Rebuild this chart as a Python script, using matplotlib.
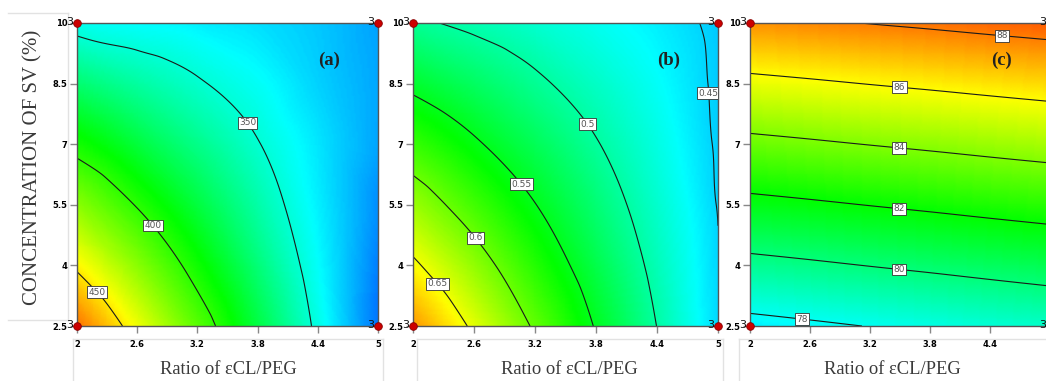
import numpy as np
import matplotlib.pyplot as plt
import matplotlib.tri as mtri
from matplotlib.colors import LinearSegmentedColormap, Normalize
from matplotlib.lines import Line2D

# grid of the design space
ratio_ticks = [2, 2.6, 3.2, 3.8, 4.4, 5]
conc_ticks = [2.5, 4, 5.5, 7, 8.5, 10]
ratio_labels = ["2", "2.6", "3.2", "3.8", "4.4", "5"]
conc_labels = ["2.5", "4", "5.5", "7", "8.5", "10"]

# responses, rows follow conc_ticks, columns ratio_ticks
resp_a = [
    [475.0, 441.8, 409.3, 377.6, 346.8, 316.7],
    [447.1, 419.8, 393.3, 367.7, 342.8, 318.7],
    [420.1, 398.9, 378.4, 358.7, 339.8, 321.6],
    [394.2, 378.9, 364.4, 350.7, 337.8, 325.6],
    [369.2, 359.9, 351.4, 343.7, 334.0, 326.0],
    [345.3, 342.0, 339.5, 336.5, 332.0, 325.0],
]
resp_b = [
    [0.693, 0.6446, 0.5963, 0.5479, 0.4996, 0.4520],
    [0.6555, 0.6145, 0.5735, 0.5326, 0.4916, 0.4505],
    [0.618, 0.5844, 0.5508, 0.5172, 0.4836, 0.4490],
    [0.5805, 0.5543, 0.5281, 0.5018, 0.4756, 0.4475],
    [0.543, 0.5242, 0.5053, 0.4865, 0.4676, 0.4465],
    [0.5055, 0.4940, 0.4826, 0.4711, 0.4597, 0.4450],
]
resp_c = [
    [77.58, 77.80, 78.03, 78.25, 78.48, 78.70],
    [79.60, 79.81, 80.03, 80.24, 80.46, 80.67],
    [81.62, 81.82, 82.03, 82.23, 82.44, 82.64],
    [83.64, 83.83, 84.03, 84.22, 84.42, 84.61],
    [85.66, 85.84, 86.03, 86.21, 86.40, 86.58],
    [87.68, 87.85, 88.03, 88.20, 88.38, 88.55],
]

levels_a = [350, 400, 450]
levels_b = [0.45, 0.5, 0.55, 0.6, 0.65]
levels_c = [78, 80, 82, 84, 86, 88]

# where the contour labels sit
labels_a = [(2.22, 3.39), (2.81, 5.1), (3.70, 7.53)]
labels_b = [(2.27, 3.6), (2.64, 4.73), (3.085, 6.05), (3.72, 7.5), (4.89, 8.26)]
labels_c = [(2.52, 2.7), (3.5, 4.06), (3.5, 5.56), (3.5, 7.06), (3.5, 8.57), (4.52, 9.75)]

# colour scale stops (blue, cyan, green, yellow, red)
stops_a = [295, 342, 390, 445, 500]
stops_b = [0.37, 0.465, 0.56, 0.655, 0.75]
stops_c = [74, 77.8, 82, 86, 90]
stop_colors = ["#0000ff", "#00ffff", "#00ff00", "#ffff00", "#ff0000"]

W, H = 1046, 381
fig = plt.figure(figsize=(W / 100, H / 100), dpi=100)


def px_axes(left, right, top, bottom):
    return fig.add_axes([left / W, (H - bottom) / H, (right - left) / W, (bottom - top) / H])


def draw_panel(ax, resp, stops, levels, fmt, label_pos, tag, xlab_x, xlabels):
    X, Y = np.meshgrid(ratio_ticks, conc_ticks)
    z = np.array(resp, dtype=float).ravel()
    tri = mtri.Triangulation(X.ravel(), Y.ravel())
    interp = mtri.CubicTriInterpolator(tri, z, kind="geom")
    refiner = mtri.UniformTriRefiner(tri)
    fine_tri, fine_z = refiner.refine_field(z, triinterpolator=interp, subdiv=5)

    vmin, vmax = stops[0], stops[-1]
    pos = [(s - vmin) / (vmax - vmin) for s in stops]
    cmap = LinearSegmentedColormap.from_list("de", list(zip(pos, stop_colors)))
    ax.tripcolor(fine_tri, fine_z, shading="gouraud", cmap=cmap,
                 norm=Normalize(vmin, vmax), rasterized=True)
    cs = ax.tricontour(fine_tri, fine_z, levels=levels, colors="#1a1a1a", linewidths=0.8)
    texts = ax.clabel(cs, fmt=fmt, manual=label_pos, inline=False,
                      fontsize=6.5, colors="#555555")
    for t in texts:
        t.set_rotation(0)
        t.set_bbox(dict(boxstyle="square,pad=0.15", fc="white", ec="#333333", lw=0.6))

    ax.set_xlim(2, 5)
    ax.set_ylim(2.5, 10)
    ax.set_xticks(ratio_ticks)
    ax.set_xticklabels(xlabels)
    ax.set_yticks(conc_ticks)
    ax.set_yticklabels(conc_labels)
    ax.tick_params(direction="out", length=5, width=1, color="#888888",
                   labelsize=6, pad=5)
    ax.tick_params(axis="y", pad=2)
    for lab in ax.get_xticklabels() + ax.get_yticklabels():
        lab.set_fontweight("bold")
    for sp in ax.spines.values():
        sp.set_color("#555555")
        sp.set_linewidth(1)

    # design points at the corners
    cx = [ratio_ticks[0], ratio_ticks[0], ratio_ticks[-1], ratio_ticks[-1]]
    cy = [conc_ticks[0], conc_ticks[-1], conc_ticks[0], conc_ticks[-1]]
    ax.plot(cx, cy, "o", ms=5.5, color="#cc0000", mec="#880000", mew=0.6,
            clip_on=False, zorder=6)
    for px, py in zip(cx, cy):
        ax.annotate("3", xy=(px, py), xytext=(-2.5, 0.8), textcoords="offset points",
                    ha="right", va="center", fontsize=8, color="#111111",
                    annotation_clip=False, zorder=7)

    ax.text(0.837, 0.878, tag, transform=ax.transAxes, ha="center", va="center",
            fontsize=13.5, fontweight="bold", family="Liberation Serif", color="#222222")
    fig.text(xlab_x / W, (H - 370) / H, "Ratio of \u03b5CL/PEG", ha="center", va="center",
             fontsize=13.3, family="Liberation Serif", color="#3a3a3a")


ax_a = px_axes(77, 378, 23, 326)
ax_b = px_axes(413, 718, 23, 326)
ax_c = px_axes(750, 1050, 23, 326)

draw_panel(ax_a, resp_a, stops_a, levels_a, "%d", labels_a, "(a)", 228, ratio_labels)
draw_panel(ax_b, resp_b, stops_b, levels_b, "%g", labels_b, "(b)", 569, ratio_labels)
# the last tick label of panel (c) falls outside the picture
draw_panel(ax_c, resp_c, stops_c, levels_c, "%d", labels_c, "(c)", 892,
           ratio_labels[:-1] + [""])

fig.text(33 / W, (H - 167.5) / H, "CONCENTRATION OF SV (%)", rotation=90,
         ha="center", va="center", fontsize=15, family="Liberation Serif", color="#3a3a3a")

# faint frames left from the pasted sub-images
frame = "#e2e2e2"
segments = [
    ((8, 68), (12.5, 12.5)), ((68, 68), (12.5, 320)), ((8, 68), (320, 320)),
    ((73, 383), (339, 339)), ((73, 73), (339, 381)), ((383, 383), (339, 381)),
    ((417, 723), (339, 339)), ((417, 417), (339, 381)), ((723, 723), (339, 381)),
    ((739, 1046), (339, 339)), ((739, 739), (339, 381)),
]
for xs, ys in segments:
    fig.add_artist(Line2D([x / W for x in xs], [(H - y) / H for y in ys],
                          transform=fig.transFigure, color=frame, lw=1, zorder=0))

fig.savefig("out.png", dpi=100)
